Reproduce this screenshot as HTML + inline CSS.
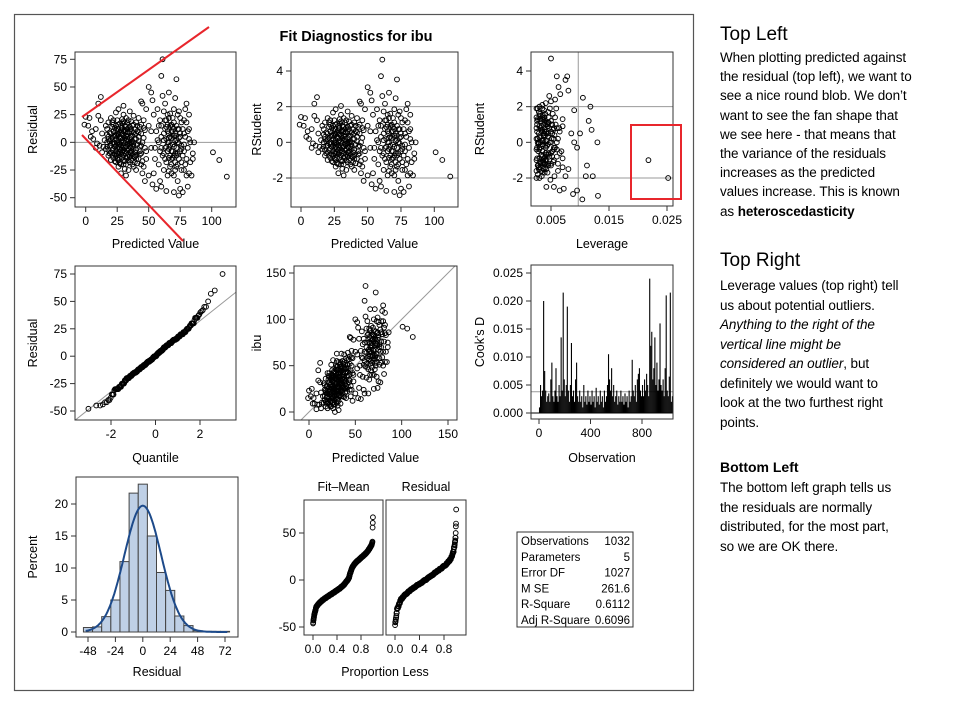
<!DOCTYPE html>
<html><head><meta charset="utf-8"><style>
html,body{margin:0;padding:0;background:#fff;width:960px;height:702px;overflow:hidden}
svg{display:block;font-family:"Liberation Sans",Arial,sans-serif}
.side{position:absolute;left:720px;top:0;width:240px;font-family:"Liberation Sans",Arial,sans-serif;color:#000}
.side p{margin:0;white-space:nowrap}
</style></head><body>
<svg id="chart" width="960" height="702"></svg>
<div class="side">
<div style="position:absolute;top:24px;font-size:19px">Top Left</div>
<p style="position:absolute;top:48px;font-size:13.5px;line-height:19.2px;letter-spacing:-0.1px">When plotting predicted against<br>the residual (top left), we want to<br>see a nice round blob. We don’t<br>want to see the fan shape that<br>we see here - that means that<br>the variance of the residuals<br>increases as the predicted<br>values increase. This is known<br>as <b>heteroscedasticity</b></p>
<div style="position:absolute;top:250px;font-size:19px">Top Right</div>
<p style="position:absolute;top:276px;font-size:13.5px;line-height:19.5px;letter-spacing:-0.1px">Leverage values (top right) tell<br>us about potential outliers.<br><i>Anything to the right of the<br>vertical line might be<br>considered an outlier</i>, but<br>definitely we would want to<br>look at the two furthest right<br>points.</p>
<div style="position:absolute;top:459px;font-size:14px;font-weight:bold">Bottom Left</div>
<p style="position:absolute;top:478px;font-size:13.5px;line-height:19.5px;letter-spacing:-0.1px">The bottom left graph tells us<br>the residuals are normally<br>distributed, for the most part,<br>so we are OK there.</p>
</div>
<script>
// ---- data ----
const fitResidPairs = [[18,5],[20,-3],[22,10],[24,-8],[26,2],[28,15],[30,-12],[32,6],[34,-2],[36,12],[38,-6],[40,3],[42,-15],[44,8],[19,-10],[21,14],[23,-1],[25,20],[27,-14],[29,7],[31,-5],[33,18],[35,-9],[37,1],[39,-18],[41,10],[43,-4],[17,12],[16,-6],[20,22],[24,-18],[28,-20],[32,22],[36,-16],[40,18],[44,-10],[46,4],[48,-8],[22,-14],[26,-22],[30,25],[34,-25],[38,24],[27,9],[29,-9],[31,11],[33,-13],[35,4],[25,-5],[23,6],[21,-7],[19,1],[37,-11],[39,7],[41,-2],[43,14],[45,-17],[47,11],[15,2],[14,-4],[13,8],[12,20],[10,24],[8,12],[5,10],[3,22],[0,23],[-1,16],[6,3],[9,-1],[11,-3],[13,-9],[26,30],[30,33],[35,28],[28,-28],[32,-30],[40,-25],[45,-28],[50,-30],[50,15],[52,-5],[54,25],[48,30],[46,-22],[42,22],[38,-22],[24,27],[20,-16],[18,-12],[16,15],[30,0],[33,-1],[27,-2],[24,3],[36,5],[29,2],[31,-8],[34,9],[22,0],[38,0],[26,-10],[35,-18],[32,14],[28,4],
[25,12],[27,-6],[29,17],[31,-17],[33,3],[35,-4],[37,15],[23,-11],[21,4],[39,-9],[30,-20],[28,8],[26,-16],[34,20],[36,-1],[32,-10],[20,8],[18,18],[17,-4],[42,5],[44,-20],[40,-12],[24,15],[22,20],
[17,0],[18,-7],[19,9],[20,3],[21,-12],[22,16],[23,-4],[24,11],[25,-15],[26,7],[27,-9],[28,-3],[29,13],[30,-7],[31,4],[32,-14],[33,9],[34,-6],[35,14],[36,-10],[37,6],[38,-3],[39,12],[40,-7],[41,-19],[42,1],[43,-11],[44,16],[18,3],[20,-9],[22,5],[24,-3],[26,12],[28,-11],[30,6],[32,-4],[34,13],[36,-5],[38,9],[40,-15],[22,-6],[24,6],[26,-4],[28,11],[30,-16],[32,2],[34,-11],[36,19],[38,-13],[40,8],[25,0],[27,4],[29,-5],[31,15],[33,-7],[35,-1],[37,-20],[39,3],[41,15],[43,-8],[21,-1],[23,13],[25,8],[27,-19],[29,21],[31,-24],[33,5],[35,10],[37,-4],[39,-13],[23,-17],[21,18],[19,-3],[17,7],[45,0],[47,-5],[46,13],[44,-3],[42,9],[30,10],[28,-7],[26,-1],[32,-20],[34,1],[36,-8],[38,16],[30,-3],[29,-14],[31,18],[33,12],[35,-13],[27,17],[25,-10],[24,-12],[26,16],[28,0],[36,0],[34,-16],[32,10],[30,19],
[60,5],[62,-10],[64,20],[66,0],[68,-20],[70,30],[72,-5],[74,12],[76,-25],[78,8],[80,-15],[82,25],[84,-30],[63,35],[65,-30],[67,15],[69,-8],[71,40],[73,-35],[75,22],[77,-12],[79,30],[81,-40],[83,0],[85,-10],[58,-20],[56,10],[57,30],[59,-35],[61,42],[64,-44],[66,45],[70,-45],[72,57],[74,-48],[76,18],[78,-2],[80,35],[82,-28],[62,2],[64,-4],[66,8],[68,4],[70,-12],[72,6],[74,-1],[66,-14],[68,16],[60,60],[61,75],[54,-28],[55,-15],[57,2],[59,20],[53,38],[52,45],[50,50],[60,-40],[62,-25],[86,0],[85,-15],[101,-9],[106,-16],[112,-31],[77,-45],[75,-42],[70,-30],[65,25],[67,-22],[73,25],[79,-20],[81,10],[69,22],[71,-18],[63,-15],[65,10],
[64,3],[67,-3],[69,10],[71,1],[73,-10],[75,5],[63,12],[68,-8],[70,18],[72,-22],[76,-6],[78,20],[80,-30],[82,12],[62,28],[66,-26],[60,-5],[58,15],
[62,8],[63,-5],[64,14],[65,-8],[66,4],[67,-12],[68,10],[69,-2],[70,6],[71,-10],[72,15],[73,0],[74,-15],[75,8],[76,-3],[77,12],[78,-8],[79,5],[80,18],[81,-5],[82,3],[83,-18],[64,-18],[66,22],[68,-28],[70,-4],[72,-12],[74,28],[76,-18],[78,-25],[65,0],[67,5],[69,14],[71,-25],[73,12],[75,-8],[63,20],[61,-12],[60,15],[59,-8],[66,-6],[68,-15],[70,12],[72,2],[74,4],[65,16],[67,26],[69,-14],[71,8],[73,-20],
[46,20],[48,-15],[52,10],[55,-5],[58,0],[45,35],[47,-35],[53,-38],[56,-42],[44,37],[12,41],[10,35],[8,-5],[4,5],[2,15]];
const predicted = fitResidPairs.map(p => p[0]);
const residuals = fitResidPairs.map(p => p[1]);
const rmse = 16.17;
const leverageX = [2.6,2.8,3.0,3.2,3.4,3.6,3.8,4.0,4.2,4.4,4.6,4.8,5.0,5.2,5.4,5.6,5.8,6.0,2.7,2.9,3.1,3.3,3.5,3.7,3.9,4.1,4.3,4.5,4.7,4.9,5.1,5.3,5.5,5.7,2.6,2.6,2.7,2.8,2.9,3.0,3.1,3.2,3.3,3.4,3.5,3.6,3.7,3.8,3.9,4.0,4.1,4.2,4.3,4.4,4.5,4.6,4.8,5.0,5.2,5.4,5.6,5.9,6.2,6.4,6.6,6.8,7.0,7.2,5.0,6.0,6.3,7.5,7.8,8.0,8.5,9.0,9.5,10.0,10.5,11.0,11.5,12.0,11.8,13.0,13.1,10.4,9.5,8.8,7.5,6.5,5.5,4.2,7.0,8.0,9.0,11.2,12.2,21.8,25.2,2.7,3.0,3.3,3.6,3.9,4.2,4.5,2.8,3.1,3.4,3.7,4.0,4.3,4.6,2.9,3.2,3.5,3.8,4.1,4.4,
2.5,2.5,2.5,2.5,2.5,2.5,2.5,2.5,3.0,3.0,3.0,3.0,3.0,3.0,3.0,3.5,3.5,3.5,3.5,3.5,3.5,3.5,4.0,4.0,4.0,4.0,4.0,4.0,4.5,4.5,4.5,4.5,4.5,4.5,5.0,5.0,5.0,5.0,5.0,5.5,5.5,5.5,5.5,6.0,6.0,6.0,6.5,6.5,7.0,7.0,2.7,2.7,2.7,3.2,3.2,3.2,3.7,3.7,3.7,4.2,4.2,4.7,4.7,5.2,5.2,5.7,5.7,6.2,6.2,2.6,2.6,2.9,2.9,3.4,3.4,3.9,3.9];
const leverageY = [1.2,-0.5,0.3,-1.4,0.9,-0.2,1.8,-1.0,0.5,-1.7,1.4,0.0,2.3,-0.8,0.7,-1.9,1.0,-0.4,-1.8,1.7,-1.1,0.1,2.1,-1.5,0.6,-0.6,1.1,-1.2,2.6,-2.1,0.2,1.6,-0.3,2.4,-0.9,0.6,1.9,-1.3,0.0,-2.0,1.3,0.8,-0.7,-1.9,-0.1,1.5,0.4,-0.9,-1.7,1.2,2.2,-1.5,-0.2,0.9,0.3,-0.6,1.9,-1.3,1.0,-1.1,0.4,1.9,-1.6,0.8,2.7,-0.5,1.3,-2.6,4.7,3.7,3.1,3.5,3.7,2.9,0.5,1.8,-0.3,0.5,2.5,-1.9,1.2,0.7,2.0,0.0,-3.0,-3.2,-2.7,-2.9,-1.9,-2.7,-2.5,-2.5,-1.4,-1.5,0.0,-1.3,-1.9,-1.0,-2.0,0.2,-0.4,0.7,-1.0,1.4,-0.7,0.9,-0.1,1.6,-1.6,0.5,-1.2,0.1,1.1,-1.5,0.8,-0.8,0.4,-0.3,1.0,
-1.6,-1.0,-0.4,0.2,0.8,1.4,-2.0,1.9,-1.5,-0.9,-0.3,0.3,0.9,1.5,2.0,-1.7,-1.1,-0.5,0.1,0.7,1.3,1.9,-1.4,-0.8,-0.2,0.4,1.0,1.6,-1.3,-0.7,-0.1,0.5,1.1,1.7,-1.2,-0.6,0.0,0.6,1.2,-1.0,-0.4,0.2,0.8,-0.8,0.0,0.8,-0.6,0.6,-0.9,0.9,-1.3,0.0,1.3,-1.2,0.0,1.2,-1.1,0.1,1.3,-1.0,0.6,-0.8,0.8,-0.5,0.5,-0.3,1.4,-1.2,0.2,-0.3,1.0,-1.4,0.5,-0.7,0.6,-1.2,1.1];
const cooksD = [.001,.005,.003,.004,.020,.0075,.004,.002,.003,.0035,
.002,.006,.009,.003,.002,.004,.008,.003,.002,.005,
.003,.0135,.004,.0215,.006,.003,.005,.019,.004,.002,
.005,.0125,.003,.004,.002,.006,.009,.003,.002,.004,
.002,.003,.001,.005,.002,.003,.0015,.004,.002,.003,
.0015,.004,.002,.003,.001,.0045,.002,.003,.0015,.004,
.002,.003,.001,.004,.002,.003,.005,.0105,.006,.004,
.008,.003,.005,.002,.003,.004,.0015,.003,.002,.004,
.002,.003,.0015,.0035,.002,.003,.001,.004,.002,.003,
.0095,.004,.003,.005,.002,.006,.007,.008,.004,.003,
.005,.003,.006,.004,.007,.005,.003,.024,.012,.0145,
.006,.008,.0135,.005,.009,.004,.006,.016,.005,.004,
.006,.003,.008,.021,.004,.003,.0065,.0215,.002,.003];
const cooksObsStep = 8;
const histCenters = [-48,-40,-32,-24,-16,-8,0,8,16,24,32,40,48,56,64,72];
const histPercent = [0.7,0.8,2.4,5.0,11.0,21.7,23.1,15.0,9.3,6.5,2.5,1.0,0.2,0.1,0.1,0.1];
const histBinWidth = 8;
const statLabels = ["Observations","Parameters","Error DF","M SE","R-Square","Adj R-Square"];
const statValues = ["1032","5","1027","261.6","0.6112","0.6096"];

// ---- helpers ----
const NS = "http://www.w3.org/2000/svg";
const svg = document.getElementById('chart');
function el(tag, attrs, parent, text){
  const e = document.createElementNS(NS, tag);
  for (const k in attrs) e.setAttribute(k, attrs[k]);
  if (text !== undefined) e.textContent = text;
  (parent || svg).appendChild(e);
  return e;
}
function scale(d0,d1,r0,r1){ return v => r0 + (v-d0)*(r1-r0)/(d1-d0); }
function panel(name, box, xs, ys, xt, yt, xfmt, yfmt, xlab, ylab, ylabX, xlabY){
  const g = el('g', {}, svg);
  
  
  const clipId = 'c' + name;
  const cp = el('clipPath', {id: clipId}, g);
  el('rect', {x: box[0], y: box[1], width: box[2]-box[0], height: box[3]-box[1]}, cp);
  const inner = el('g', {'clip-path': 'url(#' + clipId + ')'}, g);
  const frame = el('rect', {x: box[0], y: box[1], width: box[2]-box[0], height: box[3]-box[1], fill: 'none', stroke: '#333', 'stroke-width': 1}, g);
  
  
  if (xt) xt.forEach(v => {
    const x = xs(v);
    el('line', {x1: x, x2: x, y1: box[3], y2: box[3]+5, stroke: '#333'}, g);
    const t = el('text', {x: x, y: box[3]+18, 'font-size': 12, 'text-anchor': 'middle'}, g, xfmt(v));
    
    
  });
  if (yt) yt.forEach(v => {
    const y = ys(v);
    el('line', {x1: box[0]-5, x2: box[0], y1: y, y2: y, stroke: '#333'}, g);
    const t = el('text', {x: box[0]-8, y: y+4, 'font-size': 12, 'text-anchor': 'end'}, g, yfmt(v));
    
    
  });
  if (xlab) {
    const t = el('text', {x: (box[0]+box[2])/2, y: xlabY, 'font-size': 12.5, 'text-anchor': 'middle'}, g, xlab);
    
    
  }
  if (ylab) {
    const cy = (box[1]+box[3])/2;
    const t = el('text', {x: ylabX, y: cy, 'font-size': 12.5, 'text-anchor': 'middle', transform: 'rotate(-90 ' + ylabX + ' ' + cy + ')'}, g, ylab);
    
    
  }
  return inner;
}
function refLine(g, x1, y1, x2, y2){
  const l = el('line', {x1, y1, x2, y2, stroke: '#999', 'stroke-width': 1}, g);
  
  
}
function dot(g, x, y){
  const c = el('circle', {cx: x, cy: y, r: 2.4, fill: 'none', stroke: '#000', 'stroke-width': 0.95}, g);
  
  
}
const i0 = v => String(v);

// outer frame + title
const outer = el('rect', {x: 14.5, y: 14.5, width: 679, height: 676, fill: 'none', stroke: '#555', 'stroke-width': 1.2});


const title = el('text', {x: 356, y: 41, 'font-size': 14.5, 'font-weight': 'bold', 'text-anchor': 'middle'}, svg, 'Fit Diagnostics for ibu');



// P1 residual vs predicted
{
  const box = [75,52,236,207], xs = scale(0,100,85.7,211.7), ys = scale(75,-50,59.3,197.7);
  const g = panel('residual-vs-predicted', box, xs, ys, [0,25,50,75,100], [-50,-25,0,25,50,75], i0, i0, 'Predicted Value', 'Residual', 37, 248);
  refLine(g, box[0], ys(0), box[2], ys(0));
  predicted.forEach((p,i) => dot(g, xs(p), ys(residuals[i])));
}
// P2 rstudent vs predicted
{
  const box = [291,52,458,207], xs = scale(0,100,301,434.3), ys = scale(4,-2,71,178);
  const g = panel('rstudent-vs-predicted', box, xs, ys, [0,25,50,75,100], [-2,0,2,4], i0, i0, 'Predicted Value', 'RStudent', 261, 248);
  refLine(g, box[0], ys(2), box[2], ys(2));
  refLine(g, box[0], ys(-2), box[2], ys(-2));
  predicted.forEach((p,i) => dot(g, xs(p), ys(residuals[i]/rmse)));
}
// P3 rstudent vs leverage
{
  const box = [531,52,673,206], xs = scale(5,25,551,667), ys = scale(4,-2,71,178);
  const g = panel('rstudent-vs-leverage', box, xs, ys, [5,15,25], [-2,0,2,4], v => (v/1000).toFixed(3), i0, 'Leverage', 'RStudent', 484, 248);
  refLine(g, box[0], ys(2), box[2], ys(2));
  refLine(g, box[0], ys(-2), box[2], ys(-2));
  refLine(g, xs(9.7), box[1], xs(9.7), box[3]);
  leverageX.forEach((v,i) => dot(g, xs(v), ys(leverageY[i])));
}
// red annotations
{
  const a = el('g', {}, svg);
  
  
  el('line', {x1: 82, y1: 117, x2: 209, y2: 27, stroke: '#e8262c', 'stroke-width': 2}, a);
  el('line', {x1: 82, y1: 135, x2: 183, y2: 241, stroke: '#e8262c', 'stroke-width': 2}, a);
  const rb = el('rect', {x: 631, y: 125, width: 50, height: 74, fill: 'none', stroke: '#e8262c', 'stroke-width': 2}, svg);
  
  
}
// P4 QQ plot
{
  const box = [75,266,236,420], xs = scale(-2,2,111,200), ys = scale(75,-50,274,411);
  const g = panel('residual-qq-plot', box, xs, ys, [-2,0,2], [-50,-25,0,25,50,75], i0, i0, 'Quantile', 'Residual', 37, 462);
  refLine(g, xs(-4), ys(-4*rmse), xs(4), ys(4*rmse));
  const sorted = residuals.slice().sort((a,b) => a-b);
  const n = sorted.length;
  function invNorm(p){
    const a=[-39.69683028665376,220.9460984245205,-275.9285104469687,138.3577518672690,-30.66479806614716,2.506628277459239];
    const b=[-54.47609879822406,161.5858368580409,-155.6989798598866,66.80131188771972,-13.28068155288572];
    const c=[-0.007784894002430293,-0.3223964580411365,-2.400758277161838,-2.549732539343734,4.374664141464968,2.938163982698783];
    const d=[0.007784695709041462,0.3224671290700398,2.445134137142996,3.754408661907416];
    let q,r;
    if (p < 0.02425){ q=Math.sqrt(-2*Math.log(p)); return (((((c[0]*q+c[1])*q+c[2])*q+c[3])*q+c[4])*q+c[5])/((((d[0]*q+d[1])*q+d[2])*q+d[3])*q+1); }
    if (p > 1-0.02425){ q=Math.sqrt(-2*Math.log(1-p)); return -(((((c[0]*q+c[1])*q+c[2])*q+c[3])*q+c[4])*q+c[5])/((((d[0]*q+d[1])*q+d[2])*q+d[3])*q+1); }
    q=p-0.5; r=q*q; return (((((a[0]*r+a[1])*r+a[2])*r+a[3])*r+a[4])*r+a[5])*q/(((((b[0]*r+b[1])*r+b[2])*r+b[3])*r+b[4])*r+1);
  }
  sorted.forEach((v,i) => dot(g, xs(invNorm((i+0.5)/n)), ys(v)));
}
// P5 observed vs predicted
{
  const box = [294,266,457,420], xs = scale(0,150,309,448), ys = scale(150,0,273,412);
  const g = panel('observed-vs-predicted', box, xs, ys, [0,50,100,150], [0,50,100,150], i0, i0, 'Predicted Value', 'ibu', 261, 462);
  refLine(g, xs(-20), ys(-20), xs(170), ys(170));
  predicted.forEach((p,i) => dot(g, xs(p), ys(p + residuals[i])));
}
// P6 Cook's D
{
  const box = [531,265,673,419], xs = scale(0,800,539,642), ys = scale(0.025,0,273,413);
  const g = panel('cooks-d-plot', box, xs, ys, [0,400,800], [0,0.005,0.01,0.015,0.02,0.025], i0, v => v.toFixed(3), 'Observation', "Cook's D", 484, 462);
  refLine(g, box[0], ys(0.0038), box[2], ys(0.0038));
  cooksD.forEach((v,i) => {
    const x = xs(i*cooksObsStep + 4);
    const l = el('line', {x1: x, x2: x, y1: ys(0), y2: ys(v), stroke: '#000', 'stroke-width': 1.1}, g);
    
    
  });
  el('line', {x1: box[0], x2: box[2], y1: ys(0), y2: ys(0), stroke: '#000', 'stroke-width': 1}, g);
}
// P7 histogram
{
  const box = [76,477,238,637], xs = scale(-48,72,88,225), ys = scale(20,0,504,632);
  const g = panel('residual-histogram', box, xs, ys, [-48,-24,0,24,48,72], [0,5,10,15,20], i0, i0, 'Residual', 'Percent', 37, 676);
  histCenters.forEach((c,i) => {
    const x0 = xs(c - histBinWidth/2), x1 = xs(c + histBinWidth/2);
    const r = el('rect', {x: x0, y: ys(histPercent[i]), width: x1-x0, height: ys(0)-ys(histPercent[i]), fill: '#bfd0e6', stroke: '#444', 'stroke-width': 1}, g);
    
    
  });
  let d = '';
  for (let v = -50; v <= 74; v += 1) {
    const pct = histBinWidth * 100 / (rmse*Math.sqrt(2*Math.PI)) * Math.exp(-v*v/(2*rmse*rmse));
    d += (d ? 'L' : 'M') + xs(v).toFixed(1) + ',' + ys(pct).toFixed(1);
  }
  const c = el('path', {d, fill: 'none', stroke: '#1d4a8a', 'stroke-width': 2}, g);
  
  
}
// P8 residual-fit spread plot
{
  const ys = scale(50,-50,533,627);
  const meanPred = predicted.reduce((a,b) => a+b, 0) / predicted.length;
  const fitMean = predicted.map(p => p - meanPred).sort((a,b) => a-b);
  const resSorted = residuals.slice().sort((a,b) => a-b);
  const specs = [['fit-mean-spread', [304,500,383,635], scale(0,0.8,313,361), fitMean, 'Fit–Mean', true],
                 ['residual-spread', [386,500,466,635], scale(0,0.8,395,444), resSorted, 'Residual', false]];
  specs.forEach(s => {
    const g = panel(s[0], s[1], s[2], ys, [0,0.4,0.8], s[5] ? [-50,0,50] : null, v => v.toFixed(1), i0, null, null);
    const n = s[3].length;
    s[3].forEach((v,i) => dot(g, s[2]((i+0.5)/n), ys(v)));
    const h = el('text', {x: (s[1][0]+s[1][2])/2, y: 491, 'font-size': 12.5, 'text-anchor': 'middle'}, svg, s[4]);
    
    
  });
  const t = el('text', {x: 385, y: 676, 'font-size': 12.5, 'text-anchor': 'middle'}, svg, 'Proportion Less');
  
  
}
// stats table
{
  const g = el('g', {}, svg);
  
  
  el('rect', {x: 517, y: 532, width: 116, height: 95, fill: '#fff', stroke: '#333'}, g);
  statLabels.forEach((lab,i) => {
    const y = 545 + i*15.8;
    el('text', {x: 521, y, 'font-size': 11.5}, g, lab);
    el('text', {x: 630, y, 'font-size': 11.5, 'text-anchor': 'end'}, g, statValues[i]);
  });
}
</script>
</body></html>
